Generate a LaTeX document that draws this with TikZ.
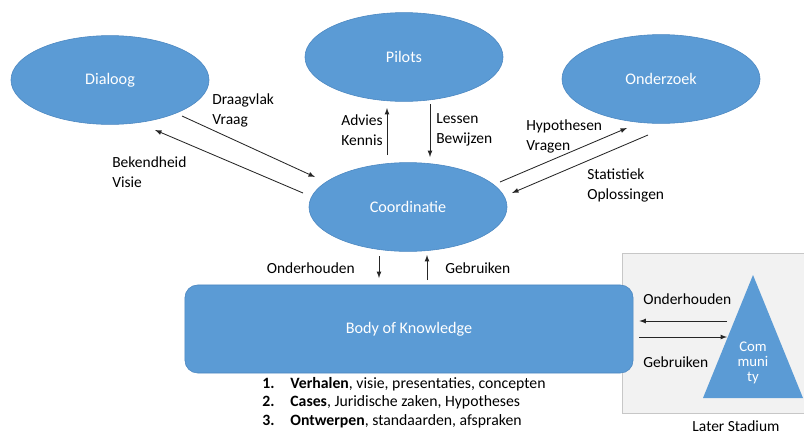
\documentclass[tikz,border=0pt]{standalone}
\usepackage{fontspec}
\setmainfont{Carlito}
\usetikzlibrary{calc,positioning,shapes.geometric}
\definecolor{okblue}{HTML}{5B9BD5}
\definecolor{okedge}{HTML}{4A86C0}

\begin{document}
\begin{tikzpicture}[x=0.025cm,y=-0.025cm,
  ell/.style={ellipse,fill=okblue,draw=okedge,minimum width=4.95cm,minimum height=2.22cm,text=white,font=\fontsize{11.5}{13}\selectfont},
  lbl/.style={align=left,inner sep=0pt,font=\fontsize{11}{14.2}\selectfont},
  arr/.style={->,>=latex,line width=0.6pt,black!85}]
\useasboundingbox (0,0) rectangle (804,436);

% stadium box and community
\draw[fill=black!5,draw=black!22] (622,253) rectangle (804,413);
\fill[okblue] (703,398) -- (753,275) -- (803,398) -- cycle;
\node[text=white,align=center,inner sep=0pt,font=\fontsize{10.5}{10.8}\selectfont] (com) at (753,363) {Com\\muni\\ty};
\node[lbl] (stad) at (736,426) {Later Stadium};

\node[ell] (dia) at (110,80) {Dialoog};
\node[ell] (pil) at (404,57) {Pilots};
\node[ell] (ond) at (661,79) {Onderzoek};
\node[ell] (coo) at (408,207) {Coordinatie};
\node[rectangle,rounded corners=9pt,fill=okblue,draw=okedge,minimum width=11.2cm,minimum height=2.2cm,text=white,font=\fontsize{11.5}{13}\selectfont] (bok) at (409,329) {Body of Knowledge};

\node[anchor=west,inner sep=0pt,font=\fontsize{11.2}{13.3}\selectfont] (lst) at (262,403)
{\begin{tabular}{@{}p{20pt}@{}l@{}}
\textbf{1.}&\textbf{Verhalen}, visie, presentaties, concepten\\
\textbf{2.}&\textbf{Cases}, Juridische zaken, Hypotheses\\
\textbf{3.}&\textbf{Ontwerpen}, standaarden, afspraken
\end{tabular}};

% dialoog
\draw[arr] ($(dia)+(72,36)$) -- ($(coo)+(-93,-30)$);
\draw[arr] ($(coo)+(-105,-14)$) -- ($(dia)+(45,50)$);
\node[lbl,anchor=west] (l1) at (212,110) {Draagvlak\\Vraag};
\node[lbl,anchor=west] (l2) at (112,172) {Bekendheid\\Visie};

% pilots
\draw[arr] ($(coo)+(-21,-52)$) -- ($(pil)+(-17,51)$);
\draw[arr] ($(pil)+(26,47)$) -- ($(coo)+(22,-50)$);
\node[lbl,anchor=east,align=left] (l3) at (383,130) {Advies\\Kennis};
\node[lbl,anchor=west] (l4) at (436,130) {Lessen\\Bewijzen};

% onderzoek
\draw[arr] ($(coo)+(92,-25)$) -- ($(ond)+(-34,49)$);
\draw[arr] ($(ond)+(-13,56)$) -- ($(coo)+(104,-14)$);
\node[lbl,anchor=west] (l5) at (526,136) {Hypothesen\\Vragen};
\node[lbl,anchor=west] (l6) at (587,185) {Statistiek\\Oplossingen};

% body of knowledge
\draw[arr] ($(coo)+(-29,49)$) -- ($(bok)+(-30,-51)$);
\draw[arr] ($(bok)+(18,-49)$) -- ($(coo)+(19,48)$);
\node[lbl,anchor=east] (l7) at (355,268) {Onderhouden};
\node[lbl,anchor=west] (l8) at (445,268) {Gebruiken};

% community
\draw[arr] ($(com)+(-26,-42)$) -- ($(bok.east)+(6,-8)$);
\draw[arr] ($(bok.east)+(6,8)$) -- ($(com)+(-26,-26)$);
\node[lbl,anchor=west] (l9) at (643,299) {Onderhouden};
\node[lbl,anchor=west] (l10) at (643,362) {Gebruiken};
\end{tikzpicture}
\end{document}
